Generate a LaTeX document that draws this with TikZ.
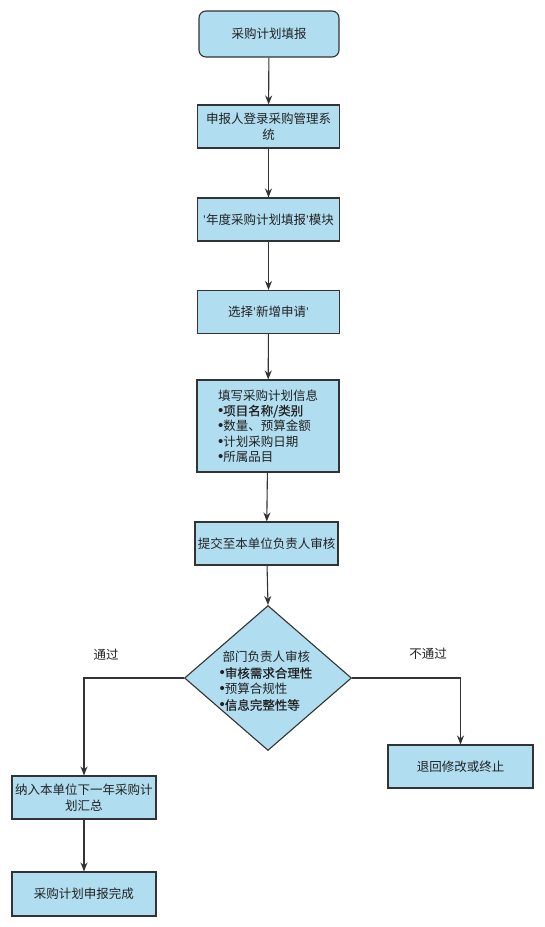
\documentclass[tikz,border=0pt]{standalone}
\usepackage{fontspec}
\setmainfont{Noto Sans CJK SC}
\newfontfamily\semib[FakeBold=0.5]{Noto Sans CJK SC}
\newfontfamily\latn{Liberation Sans}
\newcommand{\mybul}{{\latn\fontsize{15}{15}\selectfont •}}
\newcommand{\myq}{{\latn ’}}
\usetikzlibrary{arrows.meta,shapes.geometric}
\definecolor{boxfill}{HTML}{B1DDF0}
\definecolor{boxline}{HTML}{333333}
\definecolor{txt}{HTML}{222222}
\begin{document}
\begin{tikzpicture}[x=1pt,y=-1pt,
  stepbox/.style={draw=boxline,fill=boxfill,line width=1.1pt,minimum width=142pt,minimum height=43pt,inner sep=1pt,text=txt,font=\fontsize{12.5}{16}\selectfont,align=center},
  flow/.style={draw=boxline,line width=1.1pt,-{Stealth[length=9pt,width=7pt]}},
  lbl/.style={text=txt,font=\fontsize{12.5}{15}\selectfont,inner sep=0pt}]
\useasboundingbox[fill=white] (0,0) rectangle (544,927);
\node[stepbox,rounded corners=7pt,minimum width=140pt,minimum height=46pt] (b1) at (269,34) {采购计划填报};
\node[stepbox] (b2) at (268.5,126.5) {申报人登录采购管理系\\统};
\node[stepbox] (b3) at (268.5,219.5) {\myq 年度采购计划填报\myq 模块};
\node[stepbox] (b4) at (268.5,312) {选择\myq 新增申请\myq};
\node[stepbox,minimum height=92pt,align=left,font=\fontsize{12.5}{15.4}\selectfont] (b5) at (268,426) {填写采购计划信息\\{\semib\mybul 项目名称/类别}\\\mybul 数量、预算金额\\\mybul 计划采购日期\\\mybul 所属品目};
\node[stepbox,minimum width=143pt] (b6) at (266.5,543.5) {提交至本单位负责人审核};
\node[draw=boxline,fill=boxfill,line width=1.1pt,diamond,minimum width=167pt,minimum height=145pt,inner sep=0pt] (d) at (268,678) {};
\node[lbl,align=left,font=\fontsize{12.5}{16}\selectfont] (dt) at (266,681) {\hspace{3pt}部门负责人审核\\{\semib\mybul 审核需求合理性}\\\mybul 预算合规性\\{\semib\mybul 信息完整性等}};
\node[stepbox,minimum width=144pt] (b7) at (84,797.5) {纳入本单位下一年采购计\\划汇总};
\node[stepbox,minimum width=144pt,minimum height=44pt] (b8) at (84,894) {采购计划申报完成};
\node[stepbox,minimum width=145pt] (b9) at (460.5,766.5) {退回修改或终止};
\node[lbl] (l1) at (106,655) {通过};
\node[lbl] (l2) at (428,654) {不通过};
\draw[flow] (b1) -- (b2);
\draw[flow] (b2) -- (b3);
\draw[flow] (b3) -- (b4);
\draw[flow] (b4) -- (b5);
\draw[flow] (b5) -- (b6);
\draw[flow] (b6) -- (d.north);
\draw[flow] (d.west) -| (b7.north);
\draw[flow] (d.east) -| (b9.north);
\draw[flow] (b7) -- (b8);
\end{tikzpicture}
\end{document}
